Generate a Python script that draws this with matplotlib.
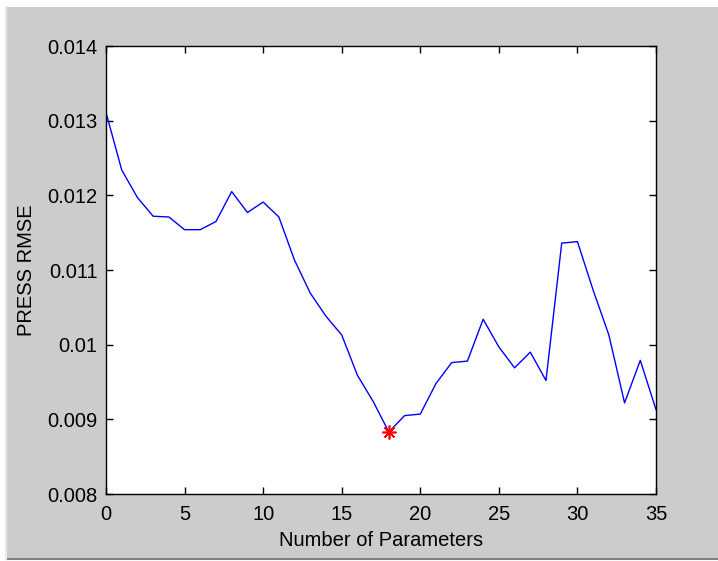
import matplotlib
matplotlib.use('Agg')
import matplotlib.pyplot as plt
from matplotlib.patches import Rectangle
from matplotlib.lines import Line2D

plt.rcParams['font.family'] = ['Liberation Sans', 'DejaVu Sans']

# PRESS RMSE vs number of parameters
n_params = list(range(0, 36))
press_rmse = [0.01311, 0.01234, 0.01197, 0.01172, 0.01171, 0.01154, 0.01154,
              0.01165, 0.01205, 0.01177, 0.01191, 0.01171, 0.01113, 0.01069,
              0.01038, 0.01013, 0.00959, 0.00924, 0.00883, 0.00905, 0.00907,
              0.00948, 0.00976, 0.00978, 0.01034, 0.00997, 0.00969, 0.00990,
              0.00952, 0.01136, 0.01138, 0.01073, 0.01013, 0.00922, 0.00979,
              0.00913]
best_n = 18
best_rmse = 0.00883

xticks = [0, 5, 10, 15, 20, 25, 30, 35]
yticks = [0.008, 0.009, 0.01, 0.011, 0.012, 0.013, 0.014]
yticklabels = ['0.008', '0.009', '0.01', '0.011', '0.012', '0.013', '0.014']

fig = plt.figure(figsize=(7.18, 5.61), dpi=100, facecolor='white')

# grey window background like the matlab figure
fig.patches.append(Rectangle((6 / 718, 2 / 561), 712 / 718, 552 / 561,
                             transform=fig.transFigure, facecolor='#cccccc',
                             edgecolor='none', zorder=-5))
fig.lines.append(Line2D([6 / 718, 1], [2 / 561, 2 / 561], transform=fig.transFigure,
                        color='#808080', lw=1.5, zorder=-4))
fig.lines.append(Line2D([6 / 718, 6 / 718], [2 / 561, 554 / 561], transform=fig.transFigure,
                        color='#e8e8e8', lw=1.5, zorder=-4))

ax = fig.add_axes([106 / 718, 1 - 494 / 561, 550 / 718, 448 / 561])
ax.set_zorder(2)
ax.set_facecolor('white')

ax.plot(n_params, press_rmse, color='blue', lw=1.0)
ax.plot(best_n, best_rmse, marker=(8, 2, 0), color='red', markersize=10, mew=1.2)

ax.set_xlim(0, 35)
ax.set_ylim(0.008, 0.014)
ax.set_xticks(xticks)
ax.set_yticks(yticks)
ax.set_yticklabels(yticklabels)

ax.tick_params(direction='in', length=5, width=1, top=True, right=True,
               labelsize=14.5, colors='black')
ax.tick_params(axis='x', pad=8)
ax.tick_params(axis='y', pad=6)
for s in ax.spines.values():
    s.set_linewidth(1.0)
    s.set_color('black')

ax.set_xlabel('Number of Parameters', fontsize=14.5, labelpad=5)
ax.set_ylabel('PRESS RMSE', fontsize=14.5, labelpad=8)

fig.savefig('out.png', dpi=100, facecolor=fig.get_facecolor())
